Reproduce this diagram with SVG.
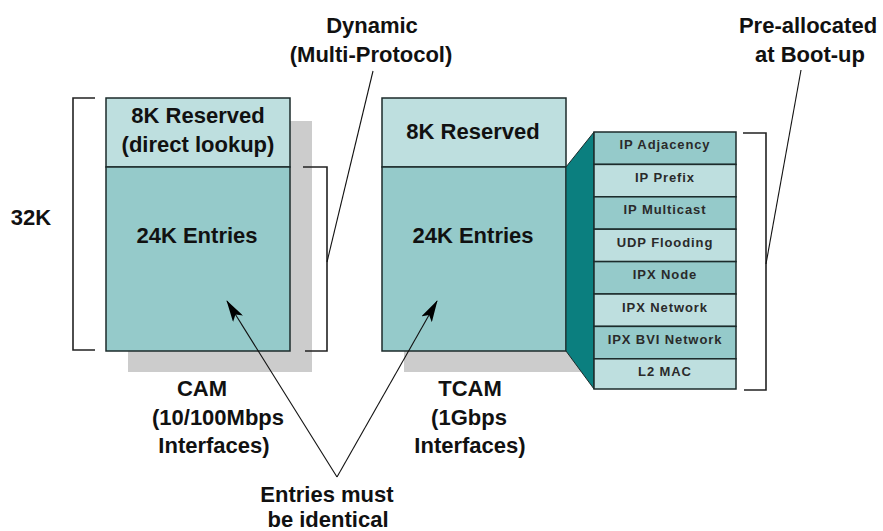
<svg xmlns="http://www.w3.org/2000/svg" width="883" height="531" viewBox="0 0 883 531">
  <style>
    text { font-family: "Liberation Sans", Arial, sans-serif; font-weight: bold; fill: #111; text-anchor: middle; }
    .big { font-size: 22px; }
    .small { font-size: 13px; letter-spacing: 0.9px; fill: #2a2a2a; }
    .light { fill: #bedfdf; stroke: #1c2b2b; stroke-width: 1.5; }
    .dark { fill: #95caca; stroke: #1c2b2b; stroke-width: 1.5; }
    .shadow { fill: #cccccc; }
    .bracket { fill: none; stroke: #222; stroke-width: 1.6; }
    .leader { fill: none; stroke: #111; stroke-width: 1.1; }
  </style>
  <defs>
    <marker id="arrow" markerUnits="userSpaceOnUse" markerWidth="22" markerHeight="12" refX="21" refY="6" orient="auto">
      <path d="M0,0 L22,6 L0,12 L5,6 z" fill="#000"/>
    </marker>
  </defs>
  <rect width="883" height="531" fill="#ffffff"/>

  <g id="cam">
    <rect class="shadow" x="128" y="121" width="184" height="251"/>
    <rect class="light" x="106" y="98" width="184" height="69"/>
    <rect class="dark" x="106" y="167" width="184" height="184"/>
    <text class="big" x="198" y="123">8K Reserved</text>
    <text class="big" x="198" y="152">(direct lookup)</text>
    <text class="big" x="197" y="243">24K Entries</text>
  </g>

  <g id="tcam">
    <rect class="shadow" x="404" y="351" width="184" height="21"/>
    <rect class="light" x="382" y="98" width="184" height="69"/>
    <rect class="dark" x="382" y="167" width="184" height="184"/>
    <text class="big" x="473" y="139">8K Reserved</text>
    <text class="big" x="473" y="243">24K Entries</text>
  </g>

  <g id="expansion">
    <polygon points="566,167 594,132 594,389 566,351" fill="#0b7f7f" stroke="#1c2b2b" stroke-width="1"/>
  </g>

  <g id="table">
    <rect class="dark" x="594" y="132" width="142" height="32.4"/>
    <rect class="light" x="594" y="164.4" width="142" height="32.4"/>
    <rect class="dark" x="594" y="196.8" width="142" height="32.4"/>
    <rect class="light" x="594" y="229.2" width="142" height="32.4"/>
    <rect class="dark" x="594" y="261.6" width="142" height="32.4"/>
    <rect class="light" x="594" y="294" width="142" height="32.4"/>
    <rect class="dark" x="594" y="326.4" width="142" height="32.4"/>
    <rect class="light" x="594" y="358.8" width="142" height="30.2"/>
    <text class="small" x="665" y="149">IP Adjacency</text>
    <text class="small" x="665" y="181.5">IP Prefix</text>
    <text class="small" x="665" y="214">IP Multicast</text>
    <text class="small" x="665" y="246.5">UDP Flooding</text>
    <text class="small" x="665" y="279">IPX Node</text>
    <text class="small" x="665" y="311.5">IPX Network</text>
    <text class="small" x="665" y="344">IPX BVI Network</text>
    <text class="small" x="665" y="376">L2 MAC</text>
  </g>

  <g id="brackets">
    <polyline class="bracket" points="95,98 73,98 73,350 95,350"/>
    <polyline class="bracket" points="303,167 327,167 327,351 305,351"/>
    <polyline class="bracket" points="743,133 766,133 766,390 744,390"/>
  </g>

  <g id="labels">
    <text class="big" x="31" y="225">32K</text>
    <text class="big" x="372" y="33">Dynamic</text>
    <text class="big" x="371" y="62">(Multi-Protocol)</text>
    <text class="big" x="808" y="33">Pre-allocated</text>
    <text class="big" x="810" y="62">at Boot-up</text>
    <text class="big" x="202" y="396">CAM</text>
    <text class="big" x="218" y="425">(10/100Mbps</text>
    <text class="big" x="214" y="453">Interfaces)</text>
    <text class="big" x="470" y="396">TCAM</text>
    <text class="big" x="469" y="425">(1Gbps</text>
    <text class="big" x="470" y="453">Interfaces)</text>
    <text class="big" x="327" y="502">Entries must</text>
    <text class="big" x="328" y="527">be identical</text>
  </g>

  <g id="connectors">
    <line class="leader" x1="373" y1="71" x2="327" y2="262"/>
    <line class="leader" x1="801" y1="70" x2="766" y2="264"/>
    <line class="leader" x1="337" y1="477" x2="227" y2="301" marker-end="url(#arrow)"/>
    <line class="leader" x1="337" y1="477" x2="437" y2="301" marker-end="url(#arrow)"/>
  </g>
</svg>
